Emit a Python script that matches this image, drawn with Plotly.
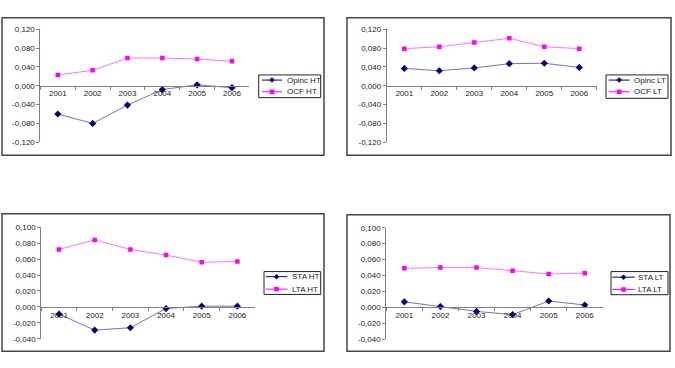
import plotly.graph_objects as go

W, H = 675, 368

years = ["2001", "2002", "2003", "2004", "2005", "2006"]

opinc_ht = [-0.060, -0.080, -0.041, -0.008, 0.002, -0.004]
ocf_ht = [0.023, 0.033, 0.059, 0.059, 0.057, 0.052]
opinc_lt = [0.037, 0.032, 0.038, 0.047, 0.048, 0.039]
ocf_lt = [0.079, 0.083, 0.092, 0.101, 0.083, 0.079]
sta_ht = [-0.009, -0.029, -0.026, -0.002, 0.001, 0.001]
lta_ht = [0.072, 0.084, 0.072, 0.065, 0.056, 0.057]
sta_lt = [0.007, 0.001, -0.005, -0.009, 0.008, 0.003]
lta_lt = [0.049, 0.050, 0.050, 0.046, 0.042, 0.043]

ticks_top = [-0.12, -0.08, -0.04, 0.0, 0.04, 0.08, 0.12]
ticks_bot = [-0.04, -0.02, 0.0, 0.02, 0.04, 0.06, 0.08, 0.10]

names = [("Opinc HT", "OCF HT"), ("Opinc LT", "OCF LT"),
         ("STA HT", "LTA HT"), ("STA LT", "LTA LT")]
series = [(opinc_ht, ocf_ht), (opinc_lt, ocf_lt),
          (sta_ht, lta_ht), (sta_lt, lta_lt)]
tickset = [ticks_top, ticks_top, ticks_bot, ticks_bot]

NAVY = "#000080"
MAG = "#ff00ff"
NAVY_LINE = "rgba(0,0,128,0.55)"
MAG_LINE = "rgba(255,0,255,0.55)"

# pixel layout: (x of cat -0.5, x of cat 5.5, y px of top tick, y px of bottom tick)
px = [
    (40.4, 249.4, 26.0, 141.7),
    (386.8, 596.8, 26.0, 141.7),
    (41.2, 255.2, 228.7, 343.3),
    (386.3, 602.8, 229.3, 343.7),
]
frames = [(2, 14, 324, 155), (347, 14, 671, 155), (2, 215, 324, 356), (347, 216, 670, 356)]
# legend box: x0, y0, x1, y1, line x0, line x1, text x, row1 y, row2 y
legends = [
    (258.7, 72.7, 320.7, 96.0, 262.0, 282.0, 285.0, 78.0, 90.0),
    (606.0, 72.7, 668.0, 96.7, 608.7, 629.7, 632.0, 78.0, 90.0),
    (264.0, 274.3, 320.7, 297.7, 265.7, 287.3, 290.0, 279.5, 292.3),
    (611.0, 274.3, 668.0, 298.0, 612.3, 634.7, 636.0, 280.0, 292.7),
]

FONT = "Liberation Sans, Arial, sans-serif"
AXC = "#808080"
TXT = "#222222"

def fmt(v):
    return f"{v:.3f}".replace(".", ",")

def X(p):
    return p / W

def Y(p):
    return 1 - p / H

fig = go.Figure()
layout = dict(width=W, height=H, margin=dict(l=0, r=0, t=0, b=0),
              paper_bgcolor="white", plot_bgcolor="white",
              font=dict(family=FONT, size=8, color=TXT),
              showlegend=False, shapes=[], annotations=[])

for i in range(4):
    k = "" if i == 0 else str(i + 1)
    xa, ya = "x" + k, "y" + k
    a, b = series[i]
    n1, n2 = names[i]
    fig.add_trace(go.Scatter(x=years, y=a, name=n1, mode="lines+markers",
                             xaxis=xa, yaxis=ya,
                             line=dict(color=NAVY_LINE, width=1),
                             marker=dict(symbol="diamond", size=5.5, color=NAVY)))
    fig.add_trace(go.Scatter(x=years, y=b, name=n2, mode="lines+markers",
                             xaxis=xa, yaxis=ya,
                             line=dict(color=MAG_LINE, width=1),
                             marker=dict(symbol="square", size=4.5, color=MAG)))
    x0, x1, yt, yb = px[i]
    t = tickset[i]
    ydom = [1 - yb / H, 1 - yt / H]
    lo, hi = t[0], t[-1]
    zero_pos = ydom[0] + (0 - lo) / (hi - lo) * (ydom[1] - ydom[0])
    layout["xaxis" + k] = dict(domain=[x0 / W, x1 / W], range=[-0.5, 5.5],
                               type="category", anchor="free", position=zero_pos,
                               showline=True, linecolor=AXC, linewidth=1,
                               ticks="outside", tickson="boundaries", ticklen=3,
                               tickcolor=AXC, showgrid=False, zeroline=False,
                               tickfont=dict(size=8, color=TXT), fixedrange=True)
    layout["yaxis" + k] = dict(domain=ydom, range=[lo, hi], anchor=xa,
                               tickvals=t, ticktext=[fmt(v) for v in t],
                               showline=True, linecolor=AXC, linewidth=1,
                               ticks="outside", ticklen=3, tickcolor=AXC,
                               showgrid=False, zeroline=False,
                               tickfont=dict(size=8, color=TXT), fixedrange=True)

    # chart frame
    fx0, fy0, fx1, fy1 = frames[i]
    layout["shapes"].append(dict(type="rect", xref="paper", yref="paper",
                                 x0=X(fx0), x1=X(fx1), y0=Y(fy1), y1=Y(fy0),
                                 line=dict(color="#444444", width=1.5)))

    # legend (drawn manually for compact Excel-like look)
    bx0, by0, bx1, by1, lx0, lx1, tx, r1, r2 = legends[i]
    layout["shapes"].append(dict(type="rect", xref="paper", yref="paper",
                                 x0=X(bx0), x1=X(bx1), y0=Y(by1), y1=Y(by0),
                                 line=dict(color="#222222", width=1), fillcolor="white"))
    mx = (lx0 + lx1) / 2
    for (ry, nm, lc, mc, sym) in [(r1, n1, NAVY, NAVY, "diamond"), (r2, n2, MAG, MAG, "square")]:
        layout["shapes"].append(dict(type="line", xref="paper", yref="paper",
                                     x0=X(lx0), x1=X(lx1), y0=Y(ry), y1=Y(ry),
                                     line=dict(color=lc, width=1)))
        if sym == "diamond":
            d = 2.8
            path = (f"M {X(mx)},{Y(ry - d)} L {X(mx + d)},{Y(ry)} "
                    f"L {X(mx)},{Y(ry + d)} L {X(mx - d)},{Y(ry)} Z")
            layout["shapes"].append(dict(type="path", xref="paper", yref="paper",
                                         path=path, fillcolor=mc, line=dict(width=0)))
        else:
            d = 2.3
            layout["shapes"].append(dict(type="rect", xref="paper", yref="paper",
                                         x0=X(mx - d), x1=X(mx + d), y0=Y(ry + d), y1=Y(ry - d),
                                         fillcolor=mc, line=dict(width=0)))
        layout["annotations"].append(dict(xref="paper", yref="paper", x=X(tx), y=Y(ry),
                                          xanchor="left", yanchor="middle", text=nm,
                                          showarrow=False, font=dict(size=8, color=TXT, family=FONT)))

fig.update_layout(**layout)
fig.write_html("out.html")
